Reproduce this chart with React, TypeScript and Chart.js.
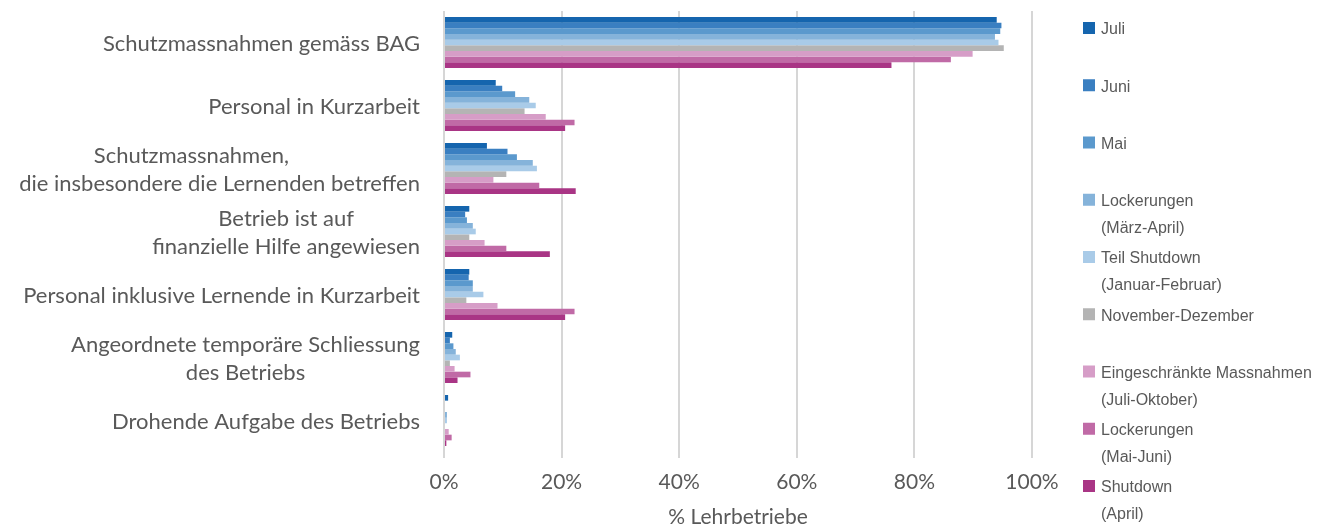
import React, { useEffect, useRef } from "react";
import { Chart, registerables } from "chart.js";

Chart.register(...registerables);

const categories: string[][] = [
  ["Schutzmassnahmen gemäss BAG"],
  ["Personal in Kurzarbeit"],
  ["Schutzmassnahmen,          ", "die insbesondere die Lernenden betreffen"],
  ["Betrieb ist auf", "finanzielle Hilfe angewiesen"],
  ["Personal inklusive Lernende in Kurzarbeit"],
  ["Angeordnete temporäre Schliessung", "des Betriebs"],
  ["Drohende Aufgabe des Betriebs"],
];

const seriesLabels: string[][] = [
  ["Juli"],
  ["Juni"],
  ["Mai"],
  ["Lockerungen", "(März-April)"],
  ["Teil Shutdown", "(Januar-Februar)"],
  ["November-Dezember"],
  ["Eingeschränkte Massnahmen", "(Juli-Oktober)"],
  ["Lockerungen", "(Mai-Juni)"],
  ["Shutdown", "(April)"],
];

const seriesColors = [
  "#1565ae",
  "#3a7fc1",
  "#5b99cd",
  "#85b3da",
  "#a9cbe8",
  "#b4b4b4",
  "#d69dc7",
  "#c06aa6",
  "#a93585",
];

const juli = [94.0, 8.8, 7.3, 4.3, 4.3, 1.4, 0.7];
const juni = [94.8, 9.9, 10.8, 3.6, 4.2, 1.0, 0];
const mai = [94.6, 12.1, 12.4, 3.9, 4.9, 1.6, 0];
const lockerungenMaerzApril = [93.7, 14.5, 15.1, 4.9, 4.9, 2.0, 0.5];
const teilShutdown = [94.3, 15.6, 15.8, 5.4, 6.7, 2.7, 0.5];
const novemberDezember = [95.2, 13.7, 10.6, 4.3, 3.8, 1.0, 0];
const eingeschraenkt = [89.9, 17.3, 8.4, 6.9, 9.1, 1.8, 0.8];
const lockerungenMaiJuni = [86.2, 22.2, 16.2, 10.6, 22.2, 4.5, 1.3];
const shutdownApril = [76.1, 20.6, 22.4, 18.0, 20.6, 2.3, 0.4];

const seriesValues = [
  juli,
  juni,
  mai,
  lockerungenMaerzApril,
  teilShutdown,
  novemberDezember,
  eingeschraenkt,
  lockerungenMaiJuni,
  shutdownApril,
];

const xTickValues = [0, 20, 40, 60, 80, 100];
const axisTitle = "% Lehrbetriebe";

const TEXT_COLOR = "#595959";

const customPlugin = {
  id: "customLabelsLegend",
  afterDraw(chart: any) {
    const ctx = chart.ctx as CanvasRenderingContext2D;
    const yScale = chart.scales.y;
    ctx.save();
    // category labels
    ctx.font = "22px Lato";
    ctx.fillStyle = TEXT_COLOR;
    ctx.textBaseline = "middle";
    ctx.textAlign = "center";
    const right = chart.chartArea.left - 24;
    const lh = 28;
    categories.forEach((lines, i) => {
      const cy = yScale.getPixelForValue(i);
      const w = Math.max(...lines.map((l) => ctx.measureText(l).width));
      const cx = right - w / 2;
      lines.forEach((l, j) => {
        ctx.fillText(l, cx, cy + (j - (lines.length - 1) / 2) * lh + 1);
      });
    });
    // legend
    ctx.font = "16px 'Liberation Sans'";
    ctx.textAlign = "left";
    const boxX = 1083;
    const textX = 1101;
    const startY = 30;
    const step = 57.25;
    const legendLh = 27;
    chart.data.datasets.forEach((ds: any, i: number) => {
      const cy = startY + i * step;
      ctx.fillStyle = ds.backgroundColor;
      ctx.fillRect(boxX, cy - 8, 12, 12);
      ctx.fillStyle = TEXT_COLOR;
      seriesLabels[i].forEach((line, j) => {
        ctx.fillText(line, textX, cy + j * legendLh);
      });
    });
    ctx.restore();
  },
};

export default function App() {
  const canvasRef = useRef<HTMLCanvasElement | null>(null);

  useEffect(() => {
    if (!canvasRef.current) return;
    const chart = new Chart(canvasRef.current, {
      type: "bar",
      data: {
        labels: categories.map((c) => c.join(" ").trim()),
        datasets: seriesValues.map((vals, i) => ({
          label: seriesLabels[i].join(" "),
          data: vals,
          backgroundColor: seriesColors[i],
          borderWidth: 0,
          categoryPercentage: 0.81,
          barPercentage: 1,
        })),
      },
      options: {
        indexAxis: "y",
        animation: false,
        responsive: false,
        devicePixelRatio: 1,
        layout: { padding: { left: 444, right: 286, top: 11, bottom: 0 } },
        plugins: {
          legend: { display: false },
          tooltip: { enabled: false },
          title: { display: false },
        },
        scales: {
          y: {
            type: "category",
            ticks: { display: false },
            grid: { display: false },
            border: { display: false },
            afterFit: (s: any) => {
              s.width = 0;
            },
          },
          x: {
            type: "linear",
            min: 0,
            max: 100,
            z: 1,
            afterBuildTicks: (s: any) => {
              s.ticks = xTickValues.map((v) => ({ value: v }));
            },
            ticks: {
              callback: (v: any) => v + "%",
              font: { family: "Lato", size: 21 },
              color: TEXT_COLOR,
              padding: 12,
              maxRotation: 0,
            },
            grid: {
              color: "rgba(0,0,0,0.16)",
              lineWidth: 2,
              drawTicks: true,
              tickLength: 6,
            },
            border: { display: false },
            title: {
              display: true,
              text: axisTitle,
              font: { family: "Lato", size: 21 },
              color: TEXT_COLOR,
              padding: { top: 0, bottom: -3 },
            },
            afterFit: (s: any) => {
              s.height = 75;
            },
          },
        },
      },
      plugins: [customPlugin],
    } as any);
    return () => chart.destroy();
  }, []);

  return (
    <div style={{ position: "fixed", left: 0, top: 0, width: 1318, height: 527, background: "#fff" }}>
      <canvas ref={canvasRef} width={1318} height={527} style={{ display: "block" }} />
    </div>
  );
}
